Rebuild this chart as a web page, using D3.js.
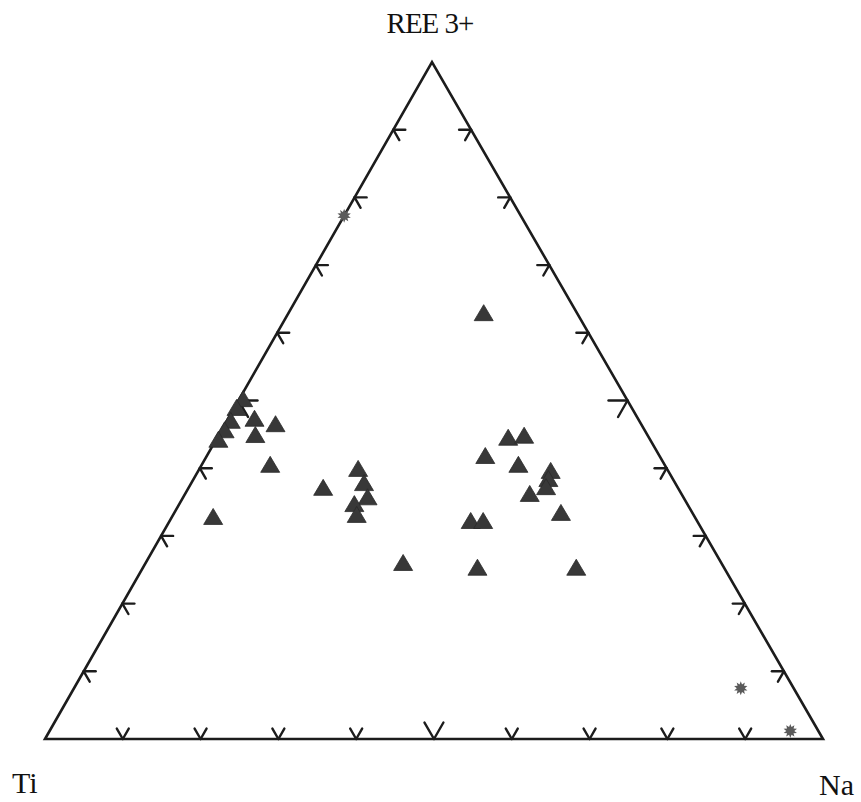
<!DOCTYPE html>
<html>
<head>
<meta charset="utf-8">
<script src="https://cdn.jsdelivr.net/npm/d3@7"></script>
<style>
  html, body { margin: 0; padding: 0; background: #fff; }
  svg { display: block; }
</style>
</head>
<body>
<svg id="chart" width="861" height="802"></svg>
<script>
// Ternary composition (percent) – triangle symbols
const triREE = [62.9, 26.0, 25.3, 25.3, 44.5, 44.8, 41.8, 40.5, 39.6, 38.4, 37.2, 36.2, 33.4, 32.2, 32.2,
                37.1, 39.9, 37.8, 35.7, 34.7, 33.1, 32.8, 46.5, 44.9, 40.5, 50.2, 48.9, 47.3, 47.0, 45.6, 44.2];
const triNa  = [25.1, 33.1, 43.0, 55.7, 37.4, 39.3, 35.8, 40.7, 45.3, 45.6, 45.9, 44.3, 49.7, 38.7, 40.3,
                17.3, 20.4, 22.2, 23.7, 22.5, 23.6, 5.3, 6.5, 4.7, 8.8, 0.5, 0.3, 3.4, 0.5, 0.4, 0.3];
const triTi  = [12.0, 40.9, 31.7, 19.0, 18.1, 15.9, 22.4, 18.8, 15.1, 16.0, 16.9, 19.5, 16.9, 29.1, 27.5,
                45.6, 39.7, 40.0, 40.6, 42.8, 43.3, 61.9, 47.0, 50.4, 50.7, 49.3, 50.8, 49.3, 52.5, 54.0, 55.5];

// Ternary composition (percent) – asterisk symbols
const starREE = [77.3, 7.5, 1.2];
const starNa  = [0.0, 85.7, 95.2];
const starTi  = [22.7, 6.8, 3.6];

// Axis tick positions along every side (percent)
const tickValues = [10, 20, 30, 40, 50, 60, 70, 80, 90];

// Corner labels
const apexLabels = { top: "REE 3+", left: "Ti", right: "Na" };

// ---- layout ----
const svg = d3.select("#chart");
const leftX = 45, rightX = 823, baseY = 739, apexX = 432, apexY = 62;
const apexShare = (apexX - leftX) / (rightX - leftX);

const xScale = d3.scaleLinear().domain([0, 100]).range([leftX, rightX]);
const yScale = d3.scaleLinear().domain([0, 100]).range([baseY, apexY]);

// ternary -> screen
function project(ree, na, ti) {
  const s = ree + na + ti;
  const r = ree / s * 100, n = na / s * 100;
  return [xScale(n + r * apexShare), yScale(r)];
}

const ink = "#1c1c1c";

// triangle outline
const corners = [project(0, 0, 100), project(100, 0, 0), project(0, 100, 0)];
svg.append("path")
  .attr("d", d3.line()(corners) + "Z")
  .attr("fill", "none")
  .attr("stroke", ink)
  .attr("stroke-width", 2.6)
  .attr("stroke-linejoin", "miter");

// tick marks: two short strokes parallel to the other two sides
function unit(a, b) { const l = Math.hypot(b[0]-a[0], b[1]-a[1]); return [(b[0]-a[0])/l, (b[1]-a[1])/l]; }
const dirLeftSide = unit(project(0,0,100), project(100,0,0));
const dirRightSide = unit(project(100,0,0), project(0,100,0));

const ticks = [];
tickValues.forEach(v => {
  const len = v === 50 ? 19 : 12;
  // bottom side (Ti–Na): arms up-right and up-left
  const pb = project(0, v, 100 - v);
  ticks.push([pb, [pb[0] + dirLeftSide[0] * len, pb[1] + dirLeftSide[1] * len]]);
  ticks.push([pb, [pb[0] - dirRightSide[0] * len, pb[1] - dirRightSide[1] * len]]);
  // left side (Ti–REE): arms right and down-right
  const pl = project(v, 0, 100 - v);
  ticks.push([pl, [pl[0] + len, pl[1]]]);
  ticks.push([pl, [pl[0] + dirRightSide[0] * len, pl[1] + dirRightSide[1] * len]]);
  // right side (REE–Na): arms left and down-left
  const pr = project(v, 100 - v, 0);
  ticks.push([pr, [pr[0] - len, pr[1]]]);
  ticks.push([pr, [pr[0] - dirLeftSide[0] * len, pr[1] - dirLeftSide[1] * len]]);
});

svg.append("g").selectAll("line")
  .data(ticks)
  .join("line")
  .attr("x1", d => d[0][0]).attr("y1", d => d[0][1])
  .attr("x2", d => d[1][0]).attr("y2", d => d[1][1])
  .attr("stroke", ink)
  .attr("stroke-width", 2.4)
  .attr("stroke-linecap", "round");

// triangle symbols
const triData = triREE.map((r, i) => project(r, triNa[i], triTi[i]));
const triPath = "M0,-8.5L9.5,7.5L-9.5,7.5Z";
svg.append("g").selectAll("path")
  .data(triData)
  .join("path")
  .attr("d", triPath)
  .attr("transform", d => `translate(${d[0]},${d[1]})`)
  .attr("fill", "#383838")
  .attr("stroke", "#2a2a2a")
  .attr("stroke-width", 0.8)
  .attr("stroke-linejoin", "round");

// asterisk symbols
const starData = starREE.map((r, i) => project(r, starNa[i], starTi[i]));
const starPts = d3.range(20).map(k => {
  const a = k * Math.PI / 10 - Math.PI / 2;
  const rr = k % 2 === 0 ? 7 : 4;
  return [rr * Math.cos(a), rr * Math.sin(a)];
});
svg.append("g").selectAll("path")
  .data(starData)
  .join("path")
  .attr("d", d3.line()(starPts) + "Z")
  .attr("transform", d => `translate(${d[0]},${d[1]})`)
  .attr("fill", "#5a5a5a");

// corner labels
const font = "'Liberation Serif', 'Times New Roman', serif";
svg.append("text")
  .attr("x", apexX - 2).attr("y", 33)
  .attr("text-anchor", "middle")
  .attr("font-family", font).attr("font-size", 29)
  .attr("letter-spacing", -1)
  .attr("fill", "#111")
  .text(apexLabels.top);
svg.append("text")
  .attr("x", 12).attr("y", 793)
  .attr("font-family", font).attr("font-size", 30)
  .attr("fill", "#111")
  .text(apexLabels.left);
svg.append("text")
  .attr("x", 819).attr("y", 795)
  .attr("font-family", font).attr("font-size", 30)
  .attr("fill", "#111")
  .text(apexLabels.right);
</script>
</body>
</html>
